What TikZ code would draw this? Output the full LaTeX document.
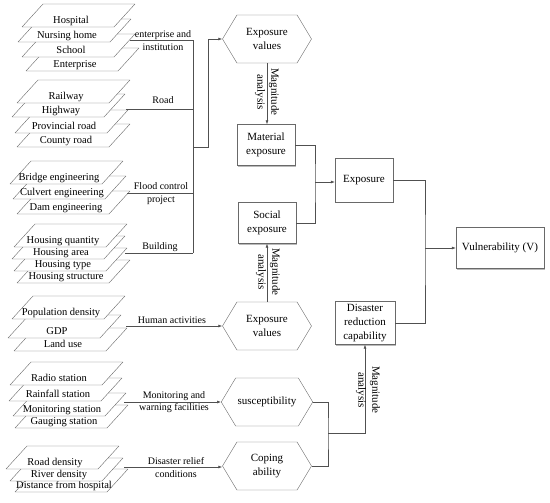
\documentclass[tikz,border=0pt]{standalone}
\usepackage{fontspec}
\setmainfont{Liberation Serif}
\usepackage{tikz}
\usetikzlibrary{shapes,arrows.meta,positioning,calc,shadows}
\usepackage{xcolor}
\definecolor{linegray}{RGB}{80,80,80}
\definecolor{edgegray}{RGB}{105,105,105}

% one slanted layer of a data stack: name, x and y of bottom-left corner, text
\newcommand{\layer}[4]{%
  \draw[layeredge] (#2,#3) -- ++(92,0) -- ++(21,-23) -- ++(-92,0) -- cycle;
  \node[layertext] (#1) at (#2+49,#3-6) {#4};
}

\begin{document}
\begin{tikzpicture}[x=1pt, y=-1pt,
  every node/.style={font=\fontsize{11}{14}\selectfont, align=center},
  layeredge/.style={draw=edgegray, fill=white, line join=round},
  layertext/.style={font=\fontsize{10.5}{12}\selectfont, inner sep=0pt, text height=1.5ex, text depth=.25ex},
  box/.style={draw=edgegray, fill=white, inner sep=2pt, minimum width=58pt, minimum height=41pt,
    drop shadow={shadow xshift=1.2pt, shadow yshift=-1.2pt, fill=black!45, opacity=.6}},
  hexa/.style={signal, signal to=east and west, signal pointer angle=118, draw=edgegray, fill=white,
    inner sep=2pt, minimum width=89pt, minimum height=48pt},
  tag/.style={font=\fontsize{10}{12.5}\selectfont, inner sep=1pt},
  link/.style={draw=linegray, line width=0.6pt},
  arr/.style={link, -{Latex[length=4pt, width=3pt]}}
]
\useasboundingbox (0,0) rectangle (550,503);

% data stacks, lowest layer drawn first
\layer{ent}{26}{71}{Enterprise}
\layer{school}{22}{57}{School}
\layer{nurs}{18}{42}{Nursing home}
\layer{hosp}{22}{27}{Hospital}

\layer{county}{17}{147}{County road}
\layer{prov}{15}{133}{Provincial road}
\layer{high}{12}{117}{Highway}
\layer{rail}{17}{103}{Railway}

\layer{dam}{17}{214}{Dam engineering}
\layer{culv}{13}{199}{Culvert engineering}
\layer{bridge}{10}{184}{Bridge engineering}

\layer{hstruct}{17}{283}{Housing structure}
\layer{htype}{14}{271}{Housing type}
\layer{harea}{12}{259}{Housing area}
\layer{hqty}{14}{247}{Housing quantity}

\layer{land}{14}{351}{Land use}
\layer{gdp}{8}{338}{GDP}
\layer{pop}{12}{319}{Population density}

\layer{gaug}{15}{428}{Gauging station}
\layer{mon}{13}{416}{Monitoring station}
\layer{rain}{9}{401}{Rainfall station}
\layer{radio}{10}{385}{Radio station}

\layer{dist}{15}{492}{Distance from hospital}
\layer{river}{10}{481}{River density}
\layer{roadd}{6}{469}{Road density}

% main column
\node[hexa] (ev1) at (267,39) {Exposure\\values};
\node[box] (mat) at (266,145) {Material\\exposure};
\node[box] (soc) at (267,223) {Social\\exposure};
\node[box, minimum height=44pt] (expo) at (364,180) {Exposure};
\node[hexa] (ev2) at (267,326) {Exposure\\values};
\node[hexa] (sus) at (267,402) {susceptibility};
\node[hexa] (cop) at (267,466) {Coping\\ability};
\node[box, minimum width=60pt, minimum height=43pt] (dis) at (365,323) {Disaster\\reduction\\capability};
\node[box, minimum width=88pt] (vul) at (500,248) {Vulnerability (V)};

% stack outlets and joints
\coordinate (entout) at (130,40);
\coordinate (roadout) at (126,109);
\coordinate (floodout) at (127,193);
\coordinate (bldout) at (125,253);
\coordinate (humout) at (126,326);
\coordinate (monout) at (124,402);
\coordinate (relout) at (124,467);
\coordinate (j1) at (193,147);
\coordinate (j2) at (315,182);
\coordinate (j3) at (328,433);
\coordinate (j4) at (425,248);

\draw[link] (entout) -- (entout -| j1) -- (bldout -| j1);
\draw[link] (roadout) -- (roadout -| j1);
\draw[link] (floodout) -- (floodout -| j1);
\draw[link] (bldout) -- (bldout -| j1);
\draw[arr] (j1) -- ++(15,0) |- (ev1.west);
\draw[arr] (humout) -- (humout -| ev2.west);
\draw[arr] (monout) -- (monout -| sus.west);
\draw[arr] (relout) -- (relout -| cop.west);

\draw[arr] (ev1.south) -- (ev1.south |- mat.north);
\draw[arr] (ev2.north) -- (ev2.north |- soc.south);
\draw[link] (mat.east) -| (j2) |- (soc.east);
\draw[arr] (j2) -- (j2 -| expo.west);
\draw[link] (sus.east) -| (j3) |- (cop.east);
\draw[arr] (j3) -| (dis.south);
\draw[link] (expo.east) -| (j4) |- (dis.east);
\draw[arr] (j4) -- (vul.west);

% connector labels
\node[tag] (lblent) at (163,40.5) {enterprise and\\institution};
\node[tag] (lblroad) at (163,100) {Road};
\node[tag] (lblflood) at (161,193.5) {Flood control\\project};
\node[tag] (lblbld) at (160,247) {Building};
\node[tag] (lblhum) at (172,320) {Human activities};
\node[tag] (lblmon) at (174,402) {Monitoring and\\warning facilities};
\node[tag] (lblrel) at (176,467.5) {Disaster relief\\conditions};
\node[rotate=-90] (mag1) at (267,92) {Magnitude\\analysis};
\node[rotate=-90] (mag2) at (268,272) {Magnitude\\analysis};
\node[rotate=-90] (mag3) at (368,390) {Magnitude\\analysis};
\end{tikzpicture}
\end{document}
